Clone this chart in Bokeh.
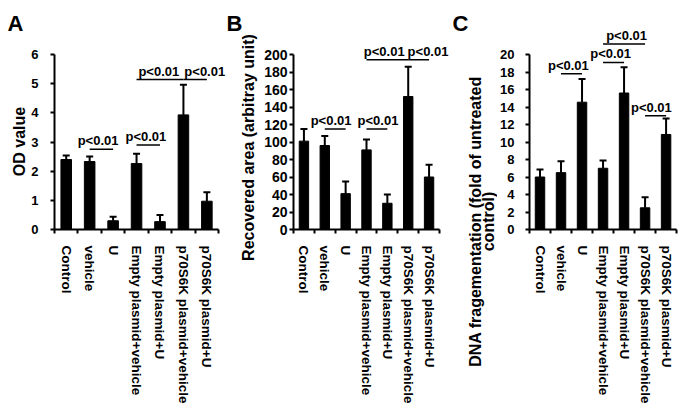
import math
from bokeh.plotting import figure
from bokeh.models import (ColumnDataSource, Range1d, LinearAxis,
                          FixedTicker, Whisker, TeeHead, LabelSet)
from bokeh.layouts import row
from bokeh.embed import file_html
from bokeh.resources import INLINE
from bokeh.core.properties import value

# ---------------- data ----------------
categories = ["Control", "vehicle", "U", "Empty plasmid+vehicle", "Empty plasmid+U",
              "p70S6K plasmid+vehicle", "p70S6K plasmid+U"]

od_mean = [2.40, 2.33, 0.30, 2.26, 0.27, 3.93, 0.97]
od_err = [0.14, 0.17, 0.14, 0.34, 0.23, 1.03, 0.31]
od_ticks = [0, 1, 2, 3, 4, 5, 6]

area_mean = [101, 96, 41, 91, 30, 152, 60]
area_err = [14, 11, 14, 12, 10, 34, 14]
area_ticks = [0, 20, 40, 60, 80, 100, 120, 140, 160, 180, 200]

dna_mean = [6.0, 6.5, 14.55, 7.0, 15.6, 2.48, 10.86]
dna_err = [0.86, 1.3, 2.65, 0.9, 2.95, 1.22, 1.84]
dna_ticks = [0, 2, 4, 6, 8, 10, 12, 14, 16, 18, 20]

# significance brackets: compared groups, bracket height, text shift (in category widths)
od_sig_a = ["vehicle", "Empty plasmid+vehicle", "Empty plasmid+vehicle", "p70S6K plasmid+vehicle"]
od_sig_b = ["U", "Empty plasmid+U", "p70S6K plasmid+vehicle", "p70S6K plasmid+U"]
od_sig_y = [2.75, 2.9, 5.14, 5.14]
od_sig_shift = [-0.14, -0.1, -0.05, 0.41]

area_sig_a = ["vehicle", "Empty plasmid+vehicle", "Empty plasmid+vehicle", "p70S6K plasmid+vehicle"]
area_sig_b = ["U", "Empty plasmid+U", "p70S6K plasmid+vehicle", "p70S6K plasmid+U"]
area_sig_y = [115, 115, 194, 194]
area_sig_shift = [-0.2, 0.05, -0.15, 0.45]

dna_sig_a = ["vehicle", "Empty plasmid+vehicle", "Empty plasmid+vehicle", "p70S6K plasmid+vehicle"]
dna_sig_b = ["U", "Empty plasmid+U", "p70S6K plasmid+vehicle", "p70S6K plasmid+U"]
dna_sig_y = [17.8, 19.1, 21.2, 13.0]
dna_sig_shift = [-0.15, -0.14, 0.12, -0.2]

sig_text = "p<0.01"
panel_letters = ["A", "B", "C"]
y_titles = [["OD value"], ["Recovered area (arbitray unit)"],
            ["DNA fragementation (fold of untreated", "control)"]]

FONT = "Liberation Sans"
H = 409


def label_strip(width, letter, letter_x, titles, title_xs, title_y):
    """Narrow figure holding the panel letter and the rotated y-axis title."""
    p = figure(width=width, height=H, x_range=Range1d(0, width), y_range=Range1d(0, H),
               output_backend="svg", toolbar_location=None,
               x_axis_location=None, y_axis_location=None,
               min_border_left=0, min_border_right=0, min_border_top=0, min_border_bottom=0,
               outline_line_color=None, frame_align=False)
    p.xgrid.visible = False
    p.ygrid.visible = False
    p.text(x=[letter_x], y=[H - 23], text=[letter], text_font=value(FONT),
           text_font_style="bold", text_font_size="22px", text_color="black",
           text_align="left", text_baseline="alphabetic")
    p.text(x=title_xs, y=[H - title_y] * len(titles), text=titles, angle=math.pi / 2,
           text_font=value(FONT), text_font_style="bold", text_font_size="16px",
           text_color="black", text_align="center", text_baseline="middle")
    return p


def panel(means, errs, ticks, sig_a, sig_b, sig_y, sig_shift,
          left, axis_w, extra_w, label_standoff, tick_font):
    n = len(categories)
    centers = [i + 0.5 for i in range(n)]
    top = 20
    frame_h = 209
    axis_px = 175
    y_end = ticks[-1] * frame_h / axis_px
    x_end = n * (axis_w + extra_w) / axis_w
    p = figure(width=left + axis_w + extra_w, height=H,
               x_range=Range1d(0, x_end), y_range=Range1d(0, y_end),
               output_backend="svg", toolbar_location=None,
               x_axis_location=None,
               min_border_left=left, min_border_right=0,
               min_border_top=top, min_border_bottom=H - top - frame_h,
               outline_line_color=None, background_fill_color="white",
               border_fill_color="white", frame_align=False)
    p.xgrid.visible = False
    p.ygrid.visible = False

    # category names at centres, tick marks at category boundaries (minor ticks)
    ax = LinearAxis(ticker=FixedTicker(ticks=centers, minor_ticks=list(range(n + 1))),
                    bounds=(0, n),
                    major_label_overrides={c: name for c, name in zip(centers, categories)},
                    axis_line_width=2, axis_line_color="black",
                    major_tick_line_color=None, major_tick_in=0, major_tick_out=0,
                    minor_tick_line_color="black", minor_tick_line_width=2,
                    minor_tick_in=0, minor_tick_out=4,
                    major_label_orientation="vertical",
                    major_label_standoff=12,
                    major_label_text_font=FONT,
                    major_label_text_font_style="bold",
                    major_label_text_font_size="13.5px",
                    major_label_text_color="black")
    p.add_layout(ax, "below")

    ya = p.yaxis[0]
    ya.ticker = FixedTicker(ticks=ticks)
    ya.bounds = (ticks[0], ticks[-1])
    ya.major_tick_in = 0
    ya.major_tick_out = 4
    ya.major_tick_line_width = 2
    ya.minor_tick_line_color = None
    ya.axis_line_width = 2
    ya.major_label_standoff = label_standoff
    ya.major_label_text_font = FONT
    ya.major_label_text_font_style = "bold"
    ya.major_label_text_font_size = tick_font
    ya.major_label_text_color = "black"

    src = ColumnDataSource(dict(x=centers, mean=means,
                                upper=[m + e for m, e in zip(means, errs)]))
    p.vbar(x="x", top="mean", width=0.45, source=src, fill_color="black", line_color="black")
    p.add_layout(Whisker(base="x", lower="mean", upper="upper", source=src, dimension="height",
                         line_width=2, line_color="black", lower_head=None,
                         upper_head=TeeHead(size=7, line_width=2, line_color="black")))

    x0 = [categories.index(a) + 0.5 for a in sig_a]
    x1 = [categories.index(b) + 0.5 for b in sig_b]
    tx = [(a + b) / 2 + s for a, b, s in zip(x0, x1, sig_shift)]
    ssrc = ColumnDataSource(dict(x0=x0, x1=x1, y=sig_y, tx=tx, label=[sig_text] * len(sig_y)))
    p.segment(x0="x0", y0="y", x1="x1", y1="y", source=ssrc,
              line_width=1.5, line_color="black")
    p.add_layout(LabelSet(x="tx", y="y", text="label", source=ssrc,
                          text_align="center", text_baseline="bottom", y_offset=1,
                          text_font=value(FONT), text_font_style="bold",
                          text_font_size="13px", text_color="black"))
    return p


la = label_strip(28, panel_letters[0], 7, y_titles[0], [19], 141)
pa = panel(od_mean, od_err, od_ticks, od_sig_a, od_sig_b, od_sig_y, od_sig_shift,
           24, 166, 8, 12, "13px")
lb = label_strip(32, panel_letters[1], 0, y_titles[1], [22], 147)
pb = panel(area_mean, area_err, area_ticks, area_sig_a, area_sig_b, area_sig_y, area_sig_shift,
           35, 146, 13, 2, "14px")
lc = label_strip(45, panel_letters[2], 0, y_titles[2], [23, 36], 221)
pc = panel(dna_mean, dna_err, dna_ticks, dna_sig_a, dna_sig_b, dna_sig_y, dna_sig_shift,
           30, 149, 7, 11, "13px")

layout = row(la, pa, lb, pb, lc, pc)
open("out.html", "w").write(file_html(layout, INLINE))
